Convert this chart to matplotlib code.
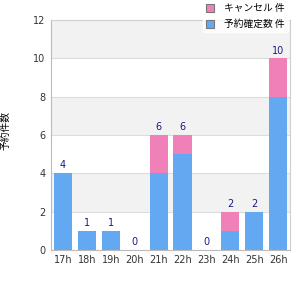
import numpy as np
import matplotlib
matplotlib.use('Agg')
import matplotlib.pyplot as plt
from matplotlib.patches import Patch

plt.rcParams['font.family'] = ['Noto Sans CJK JP', 'DejaVu Sans']

hours = ['17h', '18h', '19h', '20h', '21h', '22h', '23h', '24h', '25h', '26h']
blue_vals = [4, 1, 1, 0, 4, 5, 0, 1, 2, 8]
pink_vals = [0, 0, 0, 0, 2, 1, 0, 1, 0, 2]
pink_name = 'キャンセル 件'
blue_name = '予約確定数 件'
y_title = '予約件数'

blue_c = '#63a9f1'
pink_c = '#f080b8'

fig = plt.figure(figsize=(3, 3), dpi=100)
ax = fig.add_axes([0.17, 0.167, 0.797, 0.766])

x = np.arange(len(hours))
totals = np.array(blue_vals) + np.array(pink_vals)

# alternating background bands
for lo in range(2, 12, 4):
    ax.axhspan(lo, lo + 2, color='#f2f2f2', zorder=0, lw=0)

ax.bar(x, blue_vals, 0.76, color=blue_c, zorder=2)
ax.bar(x, pink_vals, 0.76, bottom=blue_vals, color=pink_c, zorder=2)

for xi, t in zip(x, totals):
    ax.text(xi, t + 0.15, str(t), ha='center', va='bottom', fontsize=7,
            color='#1a1a80', family='DejaVu Sans')

ax.set_xlim(-0.5, len(hours) - 0.5)
ax.set_ylim(0, 12)
ax.set_yticks(range(0, 13, 2))
ax.set_xticks(x)
ax.set_xticklabels(hours)
ax.yaxis.grid(True, color='#dcdcdc', lw=0.8, zorder=1)
ax.set_axisbelow(True)
ax.tick_params(length=0, labelsize=7, colors='#333333', pad=4)
for lab in ax.get_xticklabels() + ax.get_yticklabels():
    lab.set_family('DejaVu Sans')
for s in ax.spines.values():
    s.set_color('#d0d0d0')
    s.set_linewidth(0.8)
ax.spines['left'].set_color('#bbbbbb')
ax.spines['bottom'].set_color('#bbbbbb')

fig.text(0.018, 0.565, y_title, rotation=90, ha='center', va='center', fontsize=7)

handles = [Patch(facecolor=pink_c, edgecolor='#777777', lw=0.8),
           Patch(facecolor=blue_c, edgecolor='#777777', lw=0.8)]
leg = fig.legend(handles, [pink_name, blue_name], loc='upper right',
                 bbox_to_anchor=(0.975, 1.015), fontsize=7, frameon=True,
                 handlelength=0.9, handleheight=0.9, handletextpad=1.0,
                 labelspacing=0.6, borderpad=0.3, fancybox=False)
leg.get_frame().set_facecolor('white')
leg.get_frame().set_edgecolor('white')

fig.savefig('out.png', dpi=100)
